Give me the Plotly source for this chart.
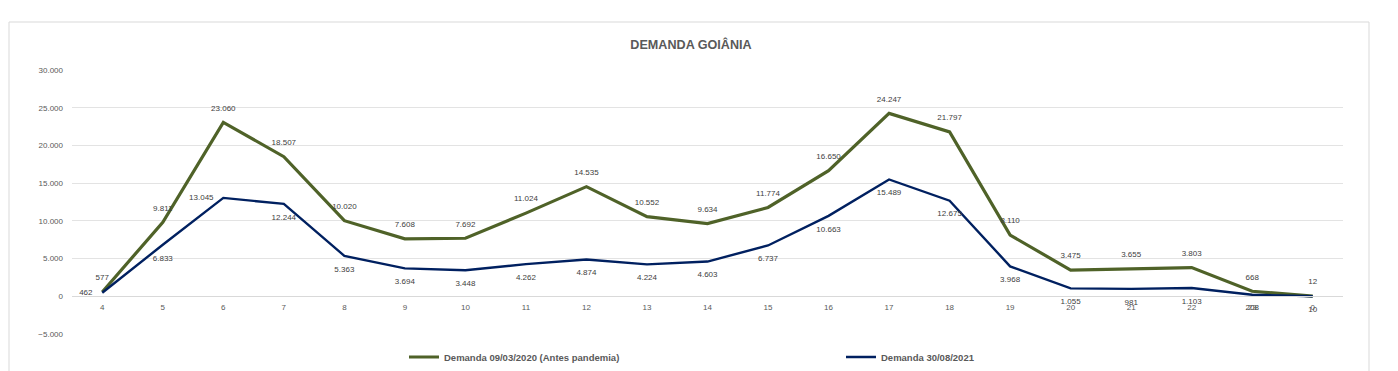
import plotly.graph_objects as go

hours = ["4", "5", "6", "7", "8", "9", "10", "11", "12", "13", "14", "15", "16",
         "17", "18", "19", "20", "21", "22", "23", "0"]
demanda_2020 = [577, 9811, 23060, 18507, 10020, 7608, 7692, 11024, 14535, 10552,
                9634, 11774, 16650, 24247, 21797, 8110, 3475, 3655, 3803, 668, 12]
demanda_2021 = [462, 6833, 13045, 12244, 5363, 3694, 3448, 4262, 4874, 4224,
                4603, 6737, 10663, 15489, 12675, 3968, 1055, 981, 1103, 208, 10]
name_2020 = "Demanda 09/03/2020 (Antes pandemia)"
name_2021 = "Demanda 30/08/2021"
title_text = "DEMANDA GOIÂNIA"

GREEN = "#4F6228"
NAVY = "#002060"
LABEL = "#404040"
TICK = "#595959"
FONT = "Liberation Sans"

pos_2021 = ["bottom center"] * len(hours)
pos_2021[0] = "middle left"
pos_2021[2] = "middle left"

fig = go.Figure()
fig.add_trace(go.Scatter(
    x=hours, y=demanda_2020, name="<b>" + name_2020 + "</b>",
    mode="lines+markers+text",
    line=dict(color=GREEN, width=3.2),
    marker=dict(size=14, color="rgba(0,0,0,0)"),
    texttemplate="%{y:,.0f}", textposition="top center",
    textfont=dict(family=FONT, size=8, color=LABEL),
    cliponaxis=False,
))
fig.add_trace(go.Scatter(
    x=hours, y=demanda_2021, name="<b>" + name_2021 + "</b>",
    mode="lines+markers+text",
    line=dict(color=NAVY, width=2.4),
    marker=dict(size=14, color="rgba(0,0,0,0)"),
    texttemplate="%{y:,.0f}", textposition=pos_2021,
    textfont=dict(family=FONT, size=8, color=LABEL),
    cliponaxis=False,
))

# page body has an 8px margin, so the figure is offset by 8px
OFF = 8
W, H = 1390, 363
L, T = 72 - OFF, 70 - OFF
R = W - (1343 - OFF)
B = H - (334 - OFF)
pw, ph = W - L - R, H - T - B

def px_x(p):
    return (p - OFF - L) / pw

def px_y(p):
    return (H - B - (p - OFF)) / ph

fig.update_layout(
    width=W, height=H,
    margin=dict(l=L, r=R, t=T, b=B, autoexpand=False),
    paper_bgcolor="white", plot_bgcolor="white",
    separators=",.",
    font=dict(family=FONT, size=8, color=TICK),
    title=dict(text="<b>" + title_text + "</b>", x=px_x(691), xanchor="center",
               xref="paper", y=1 - (45 - OFF) / H, yanchor="middle",
               yref="container",
               font=dict(family=FONT, size=12.6, color=TICK)),
    showlegend=True,
    legend=dict(orientation="h", x=px_x(404), xanchor="left",
                y=px_y(357), yanchor="middle",
                font=dict(family=FONT, size=9.5, color=TICK),
                entrywidth=438 - 46, entrywidthmode="pixels",
                itemwidth=30, bgcolor="rgba(0,0,0,0)"),
    xaxis=dict(type="category", range=[-0.5, len(hours) - 0.5],
               anchor="free", position=5000 / 35000,
               showgrid=False, showline=True, linecolor="#D9D9D9", linewidth=1,
               ticks="", ticklabelstandoff=3,
               tickfont=dict(family=FONT, size=8, color=TICK),
               zeroline=False, fixedrange=True),
    yaxis=dict(range=[-5000, 30000], dtick=5000, tick0=0,
               tickformat=",.0f", showgrid=True, gridcolor="#E3E3E3",
               gridwidth=1, zeroline=False, showline=False, ticks="",
               ticklabelstandoff=8,
               tickfont=dict(family=FONT, size=8, color=TICK), fixedrange=True),
    shapes=[dict(type="rect", xref="paper", yref="paper",
                 x0=px_x(9), x1=px_x(1369), y0=px_y(380), y1=px_y(22),
                 line=dict(color="#D9D9D9", width=1), fillcolor="rgba(0,0,0,0)",
                 layer="below")],
)

fig.write_html("out.html")
